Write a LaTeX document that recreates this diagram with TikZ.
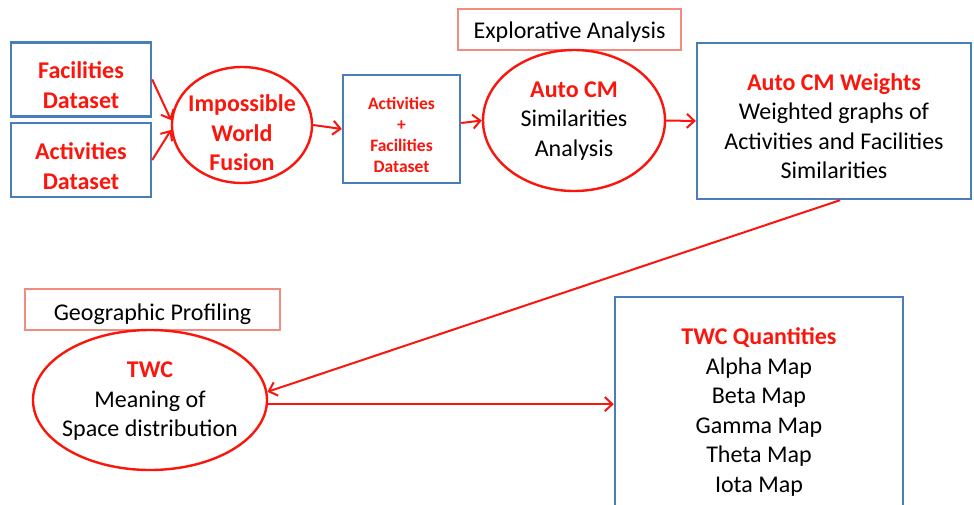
\documentclass[tikz,border=0pt]{standalone}
\usepackage{fontspec}
\setmainfont{Carlito}
\usetikzlibrary{arrows.meta,shapes.geometric}
\definecolor{flowred}{RGB}{250,22,12}
\definecolor{boxblue}{RGB}{74,126,187}
\definecolor{tagline}{RGB}{242,140,128}
\tikzset{
  txt/.style={font=\fontsize{24}{29.5}\selectfont, align=center, inner sep=0pt, text depth=0pt},
  boldred/.style={txt, text=flowred, font=\fontsize{24}{29.5}\selectfont\bfseries},
  smalltxt/.style={font=\fontsize{17.5}{21}\selectfont\bfseries, align=center, inner sep=0pt, text=flowred},
  databox/.style={draw=boxblue, line width=2.4pt, rectangle, inner sep=0pt},
  oval/.style={draw=flowred, line width=2.4pt, ellipse, inner sep=0pt},
  tag/.style={draw=tagline, line width=1.1pt, rectangle, inner sep=0pt},
  arr/.style={draw=flowred, line width=2pt, -{Straight Barb[length=7.5pt,width=14pt,line width=2pt]}},
}
\begin{document}
\begin{tikzpicture}[x=1pt,y=-1pt]
\clip (0,0) rectangle (974,504);
\fill[white] (0,0) rectangle (974,504);

% input datasets
\node[databox, minimum width=140pt, minimum height=74pt] (fac) at (81,79.5) {};
\node[boldred] (fact) at (81,85) {Facilities\\Dataset};
\node[databox, minimum width=140pt, minimum height=74pt] (act) at (81,160) {};
\node[boldred] (actt) at (81,166) {Activities\\Dataset};

% fusion step
\node[oval, minimum width=140pt, minimum height=116pt] (iwf) at (242,125) {};
\node[boldred] (iwft) at (242,133) {Impossible\\World\\Fusion};

% merged dataset
\node[databox, minimum width=117pt, minimum height=108pt] (af) at (401.5,129) {};
\node[smalltxt] (aft) at (401.5,134.5) {Activities\\+\\Facilities\\Dataset};

% explorative analysis
\node[tag, minimum width=223pt, minimum height=41pt] (tagea) at (569.5,29.5) {};
\node[txt] (tageat) at (569.5,30.5) {Explorative Analysis};
\node[oval, minimum width=182pt, minimum height=141pt] (acm) at (574,120.5) {};
\node[txt] (acmt) at (574,119) {\textcolor{flowred}{\bfseries Auto CM}\\Similarities\\Analysis};

\node[databox, minimum width=274pt, minimum height=156pt] (w) at (834,121) {};
\node[txt] (wt) at (834,126)
  {\textcolor{flowred}{\bfseries Auto CM Weights}\\Weighted graphs of\\Activities and Facilities\\Similarities};

% geographic profiling
\node[tag, minimum width=255pt, minimum height=41pt] (taggp) at (152.5,309.5) {};
\node[txt] (taggpt) at (152.5,312) {Geographic Profiling};
\node[oval, minimum width=234pt, minimum height=140pt] (twc) at (150,400) {};
\node[txt] (twct) at (150,399.5) {\textcolor{flowred}{\bfseries TWC}\\Meaning of\\Space distribution};

\node[databox, minimum width=288pt, minimum height=226pt] (twq) at (759,410) {};
\node[txt] (twqt) at (759,410)
  {\textcolor{flowred}{\bfseries TWC Quantities}\\Alpha Map\\Beta Map\\Gamma Map\\Theta Map\\Iota Map};

% connectors
\draw[arr] (fac.east) -- (iwf.176);
\draw[arr] (act.east) -- (iwf.184);
\draw[arr] (iwf.east) -- (af.west);
\draw[arr] ([yshift=6pt]af.east) -- (acm.west);
\draw[arr] (acm.east) -- (w.west);
\draw[arr] ([xshift=6pt]w.south) -- (twc.4);
\draw[arr] (twc.-2) -- (twc.-2 -| twq.west);
\end{tikzpicture}
\end{document}
